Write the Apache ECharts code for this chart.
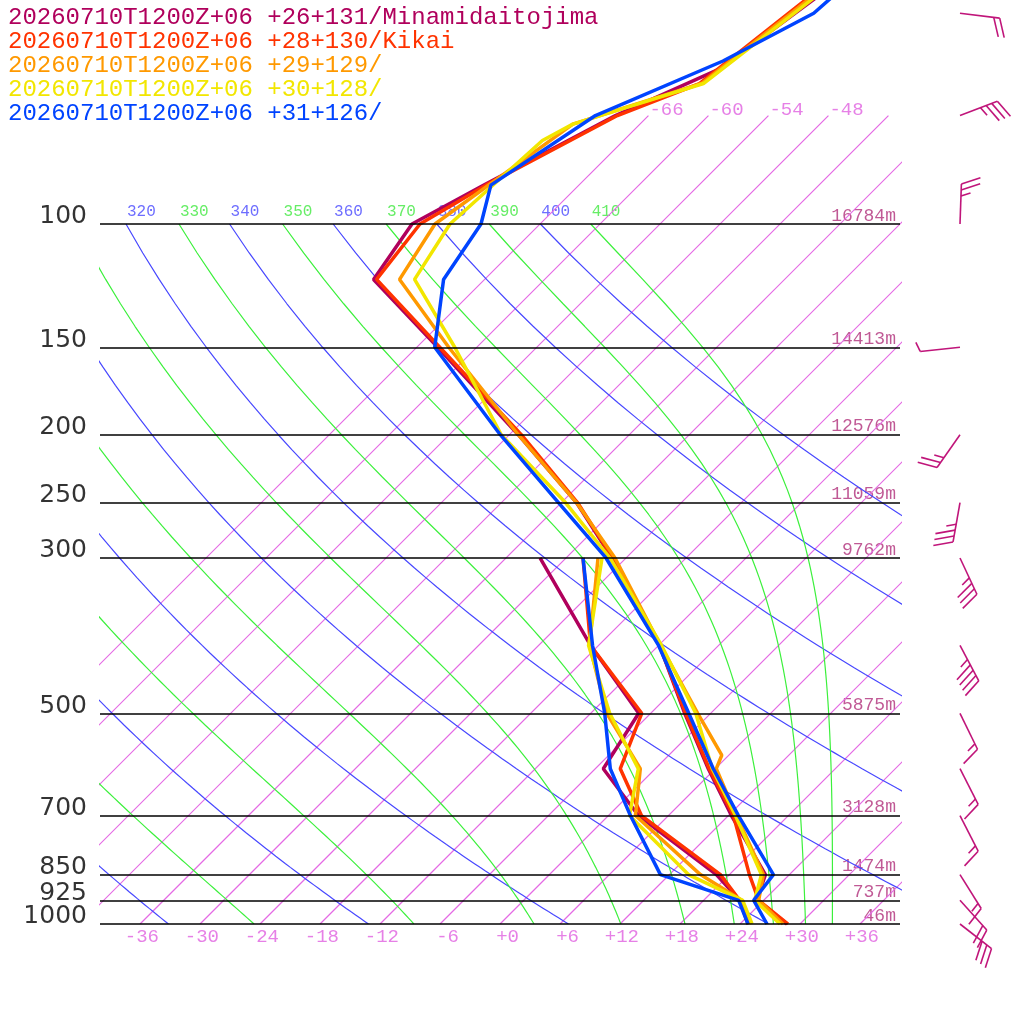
<!DOCTYPE html>
<html lang="en">
<head>
<meta charset="UTF-8">
<title>Skew-T</title>
<script src="https://cdn.jsdelivr.net/npm/echarts@6/dist/echarts.min.js"></script>
<style>
  html, body { margin: 0; padding: 0; background: #fff; }
  #main { width: 1024px; height: 1024px; }
</style>
</head>
<body>
<div id="main"></div>
<script>
// stations (legend order = drawing order)
var stationNames = [
  '20260710T1200Z+06 +26+131/Minamidaitojima',
  '20260710T1200Z+06 +28+130/Kikai',
  '20260710T1200Z+06 +29+129/',
  '20260710T1200Z+06 +30+128/',
  '20260710T1200Z+06 +31+126/'
];
var stationColors = ['#b0005c', '#ff3300', '#ff9900', '#f2e600', '#0044ff'];

// temperature profiles, [pressure hPa, T degC]
var tempMinami = [[1000, 28.7], [925, 23.3], [850, 21.6], [700, 12.3], [600, 5.3], [500, -2.6], [400, -11.9],
  [300, -25.4], [250, -34.5], [200, -47.1], [150, -63.9], [120, -77.1], [100, -78.8], [88, -75.5],
  [70, -69.3], [60, -63.5], [40, -59.2]];
var tempKikai = [[1000, 28.8], [925, 23.5], [850, 20.0], [700, 12.5], [600, 5.4], [500, -2.5], [400, -11.9],
  [300, -25.3], [250, -34.4], [200, -46.8], [150, -63.7], [120, -76.8], [100, -78.0], [88, -75.3],
  [70, -69.1], [63, -64.1], [40, -60.4]];
var temp29 = [[1000, 28.3], [925, 23.5], [850, 21.4], [700, 12.8], [600, 6.1], [574, 5.3], [500, -1.3],
  [400, -11.8], [300, -25.1], [250, -34.5], [200, -47.1], [150, -62.8], [120, -74.5], [100, -76.5],
  [72, -72.7], [63, -63.9], [40, -60.1]];
var temp30 = [[1000, 28.0], [925, 23.1], [850, 21.2], [700, 12.7], [600, 5.7], [500, -1.5], [400, -11.7],
  [300, -25.6], [250, -35.6], [200, -48.8], [150, -62.2], [120, -73.0], [100, -75.0], [76, -74.1],
  [72, -72.7], [63, -63.7], [40, -59.7]];
var temp31 = [[1000, 26.7], [925, 23.0], [850, 22.4], [700, 13.0], [600, 5.8], [500, -2.2], [400, -12.0],
  [300, -26.0], [250, -36.3], [200, -48.9], [150, -64.2], [120, -70.1], [100, -71.9], [88, -74.8],
  [70, -71.3], [58.5, -64.0], [50, -59.7], [40, -58.8]];

// dewpoint profiles on these levels
var dewLevels = [1000, 925, 850, 700, 600, 500, 400, 300];
var dewMinami = [24.8, 21.6, 16.7, 3.0, -5.2, -7.2, -18.8, -32.6];
var dewKikai = [24.9, 21.6, 17.1, 3.3, -3.5, -6.9, -18.8, -28.3];
var dew29 = [25.0, 21.8, 15.1, 2.7, -1.5, -10.4, -18.9, -26.8];
var dew30 = [25.2, 21.9, 13.9, 2.1, -1.7, -10.1, -19.0, -26.4];
var dew31 = [24.8, 21.5, 11.1, 2.2, -4.5, -10.6, -18.6, -28.3];

// wind barbs (Minamidaitojima)
var barbLevels = [1000, 925, 850, 700, 600, 500, 400, 300, 250, 200, 150, 100, 70, 50];
var barbDirs = [128, 138, 148, 153, 153, 154, 152, 155, 190, 215, 264, 2, 69, 97];
var barbSpeeds = [30, 20, 15, 15, 15, 15, 45, 35, 35, 25, 5, 25, 35, 20];

// pressure lines and heights
var pressureLevels = [1000, 925, 850, 700, 500, 300, 250, 200, 150, 100];
var heightLabels = ['46m', '737m', '1474m', '3128m', '5875m', '9762m', '11059m', '12576m', '14413m', '16784m'];

// reference lines
var isoTemps = [-66, -60, -54, -48, -42, -36, -30, -24, -18, -12, -6, 0, 6, 12, 18, 24, 30, 36];
var isoLabelTemps = [-66, -60, -54, -48];
var xTickLabels = [-36, -30, -24, -18, -12, -6, 0, 6, 12, 18, 24, 30, 36];
var dryThetas = [240, 260, 280, 300, 320, 340, 360, 380, 400];
var dryLabelThetas = [320, 340, 360, 380, 400];
var moistThetas = [250, 270, 290, 310, 330, 350, 370, 390, 410];
var moistLabelThetas = [330, 350, 370, 390, 410];

var SKEW = 70;       // degC per decade of pressure
var ISO_TOP = 70;    // isotherms stop here
var P_TOP = 1000 / Math.pow(10, 924 / 700);
var BARB_X = 46;
var MONO = 'Liberation Mono';
var ISO_COLOR = '#e46ae4';

function skewX(t, p) { return t + SKEW * Math.log10(1000 / p); }

function satThetaE(tk, p) {
  var tc = tk - 273.15;
  var es = 6.112 * Math.exp(17.67 * tc / (tc + 243.5));
  if (es > 0.5 * p) return 1e9;
  var r = 622 * es / (p - es);
  var th = tk * Math.pow(1000 / p, 0.2854 * (1 - 0.00028 * r));
  return th * Math.exp((3.376 / tk - 0.00254) * r * (1 + 0.00081 * r));
}
function moistT(te, p) {
  var lo = 150, hi = 340;
  for (var k = 0; k < 50; k++) {
    var mid = (lo + hi) / 2;
    if (satThetaE(mid, p) > te) hi = mid; else lo = mid;
  }
  return (lo + hi) / 2 - 273.15;
}
function dryT(th, p) { return th * Math.pow(p / 1000, 0.2857) - 273.15; }

function refLine(color, pts, w) {
  return {
    type: 'line', silent: true, symbol: 'none', color: color,
    lineStyle: { color: color, width: w || 1 },
    data: pts
  };
}

var series = [];

isoTemps.forEach(function (t) {
  series.push(refLine(ISO_COLOR, [[skewX(t, 1000), 1000], [skewX(t, ISO_TOP), ISO_TOP]], 1.2));
});

dryThetas.forEach(function (th) {
  var pts = [];
  for (var p = 1000; p >= 100; p -= 10) pts.push([skewX(dryT(th, p), p), p]);
  series.push(refLine('#4848ff', pts, 1.2));
});

moistThetas.forEach(function (te) {
  var pts = [];
  for (var p = 1000; p >= 100; p -= 10) pts.push([skewX(moistT(te, p), p), p]);
  series.push(refLine('#3cf03c', pts, 1.2));
});

function labelSeries(data, fmt, label) {
  return {
    type: 'scatter', silent: true, clip: false, symbolSize: 0.1,
    itemStyle: { color: 'transparent' },
    data: data,
    label: Object.assign({ show: true, formatter: fmt }, label)
  };
}

// theta labels at 100 hPa
series.push(labelSeries(dryLabelThetas.map(function (th) { return [skewX(dryT(th, 100), 100), 100]; }),
  function (d) { return String(dryLabelThetas[d.dataIndex]); },
  { position: [1, -12], align: 'left', verticalAlign: 'middle', color: '#4848ff', fontFamily: MONO, fontSize: 16 }));
series.push(labelSeries(moistLabelThetas.map(function (te) { return [skewX(moistT(te, 100), 100), 100]; }),
  function (d) { return String(moistLabelThetas[d.dataIndex]); },
  { position: [1, -12], align: 'left', verticalAlign: 'middle', color: '#40e840', fontFamily: MONO, fontSize: 16 }));

// isotherm labels
series.push(labelSeries(isoLabelTemps.map(function (t) { return [skewX(t, ISO_TOP), ISO_TOP]; }),
  function (d) { return String(isoLabelTemps[d.dataIndex]); },
  { position: [1, -6], align: 'left', verticalAlign: 'middle', color: '#e060e0', fontFamily: MONO, fontSize: 19 }));

// x tick labels
series.push(labelSeries(xTickLabels.map(function (t) { return [t, 1000]; }),
  function (d) { var v = xTickLabels[d.dataIndex]; return (v >= 0 ? '+' : '') + v; },
  { position: [19, 13], align: 'right', verticalAlign: 'middle', color: '#e060e0', fontFamily: MONO, fontSize: 19 }));

// pressure lines + labels
var pLab = labelSeries(pressureLevels.map(function (p) { return [-40, p]; }),
  function (d) { return String(pressureLevels[d.dataIndex]); },
  { position: [-13, -7], align: 'right', verticalAlign: 'middle', color: '#000', fontFamily: 'DejaVu Sans', fontSize: 25 });
pLab.markLine = {
  silent: true, symbol: ['none', 'none'], label: { show: false },
  lineStyle: { color: '#000', width: 1.5, type: 'solid' },
  data: pressureLevels.map(function (p) { return { yAxis: p }; })
};
series.push(pLab);

// height labels
series.push(labelSeries(pressureLevels.map(function (p) { return [40, p]; }),
  function (d) { return heightLabels[d.dataIndex]; },
  { position: [-4, -8], align: 'right', verticalAlign: 'middle', color: '#b0307a', fontFamily: MONO, fontSize: 18 }));

// profiles
var temps = [tempMinami, tempKikai, temp29, temp30, temp31];
var dews = [dewMinami, dewKikai, dew29, dew30, dew31];
stationNames.forEach(function (name, i) {
  series.push({
    name: name, type: 'line', symbol: 'none',
    lineStyle: { color: stationColors[i], width: 3.5 }, itemStyle: { color: stationColors[i] },
    data: temps[i].map(function (d) { return [skewX(d[1], d[0]), d[0]]; })
  });
  series.push({
    name: name, type: 'line', symbol: 'none',
    lineStyle: { color: stationColors[i], width: 3.5 }, itemStyle: { color: stationColors[i] },
    data: dewLevels.map(function (p, k) { return [skewX(dews[i][k], p), p]; })
  });
});

// wind barbs
function renderBarb(params, api) {
  var p = api.value(1), dir = api.value(2), spd = api.value(3);
  var o = api.coord([api.value(0), p]);
  var rad = dir * Math.PI / 180;
  var sx = Math.sin(rad), sy = -Math.cos(rad);
  var len = 40;
  var tip = [o[0] + sx * len, o[1] + sy * len];
  var tilt = 20 * Math.PI / 180;
  var fx = -sy * Math.cos(tilt) + sx * Math.sin(tilt);
  var fy = sx * Math.cos(tilt) + sy * Math.sin(tilt);
  var st = { stroke: '#c0157a', lineWidth: 1.6 };
  var kids = [{ type: 'line', shape: { x1: o[0], y1: o[1], x2: tip[0], y2: tip[1] }, style: st }];
  var n10 = Math.floor(spd / 10);
  var n5 = Math.round((spd - n10 * 10) / 5);
  var pos = 0;
  function feather(l) {
    var bx = tip[0] - sx * pos, by = tip[1] - sy * pos;
    kids.push({ type: 'line', shape: { x1: bx, y1: by, x2: bx + fx * l, y2: by + fy * l }, style: st });
    pos += 6;
  }
  for (var k = 0; k < n10; k++) feather(20);
  if (n5) feather(10);
  return { type: 'group', children: kids };
}
series.push({
  type: 'custom', silent: true, clip: false,
  renderItem: renderBarb,
  encode: { x: 0, y: 1 },
  data: barbLevels.map(function (p, i) { return [BARB_X, p, barbDirs[i], barbSpeeds[i]]; })
});

var chart = echarts.init(document.getElementById('main'));
chart.setOption({
  animation: false,
  backgroundColor: '#fff',
  grid: { left: 100, right: 124, top: 0, bottom: 100 },
  xAxis: { type: 'value', min: -40, max: 40, show: false },
  yAxis: { type: 'log', logBase: 10, min: P_TOP, max: 1000, inverse: true, show: false },
  legend: {
    orient: 'vertical', left: 3, top: 6, padding: 0, itemGap: 0,
    itemWidth: 0, itemHeight: 23, icon: 'none', selectedMode: false,
    textStyle: { fontFamily: MONO, fontSize: 24, lineHeight: 23 },
    data: stationNames.map(function (n, i) { return { name: n, textStyle: { color: stationColors[i] } }; })
  },
  series: series
});
</script>
</body>
</html>
